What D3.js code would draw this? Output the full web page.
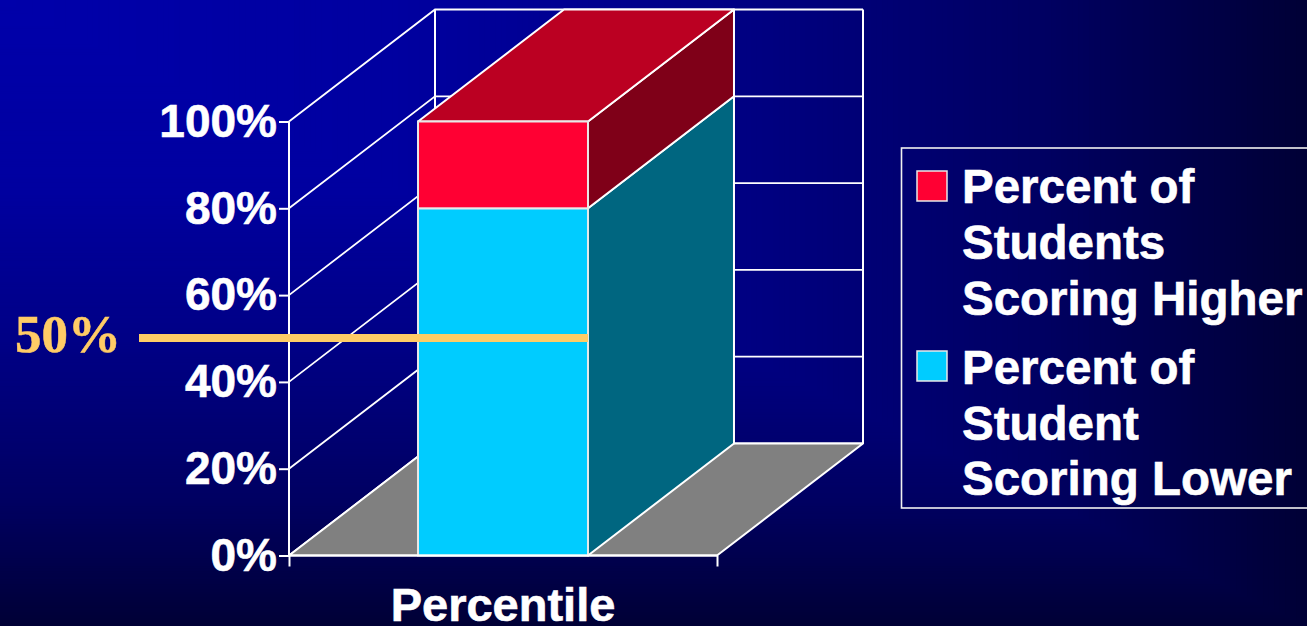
<!DOCTYPE html>
<html><head><meta charset="utf-8">
<script src="https://cdn.jsdelivr.net/npm/d3@7/dist/d3.min.js"></script>
<style>html,body{margin:0;padding:0;background:#000036;overflow:hidden}svg{display:block}</style>
</head><body><svg id="c" width="1307" height="626"></svg>
<script>
const categories = ["Percentile"];
const percentHigher = [20];
const percentLower = [80];
const seriesNames = [["Percent of","Students","Scoring Higher"],["Percent of","Student","Scoring Lower"]];
const yTicks = [0,20,40,60,80,100];
const markerValue = [50];
const markerLabel = "50%";

const svg = d3.select("#c");
// corner-anchored background gradient, painted as nested bands
const bgColor = d3.scaleLinear().domain([0,0.3,0.56,0.8,1]).range(["#0000aa","#0000a0","#000084","#000062","#000036"]);
svg.append("g").selectAll("rect").data(d3.range(240,0,-1)).join("rect")
  .attr("width",d=>1307*d/240).attr("height",d=>626*d/240).attr("fill",d=>bgColor(d/240));

const y = d3.scaleLinear().domain([0,100]).range([555.5,121.5]);
const x = d3.scaleBand().domain(categories).range([289,717]).paddingInner(0).paddingOuter(0.759);
const dx = 146, dy = -112;
const white = "#ffffff";
const drawLine = (pts,w=1.8,c=white)=>svg.append("path").attr("d",d3.line()(pts)).attr("fill","none").attr("stroke",c).attr("stroke-width",w);
const poly = (pts,f,s)=>svg.append("path").attr("d",d3.line()(pts)+"Z").attr("fill",f).attr("stroke",s||"none").attr("stroke-width",s?2:0).attr("stroke-linejoin","round");
const [x0,x1] = x.range();

// walls
yTicks.forEach(t=>{
  drawLine([[x0,y(t)],[x0+dx,y(t)+dy],[x1+dx,y(t)+dy]]);
});
drawLine([[x0+dx,y(0)+dy],[x0+dx,y(100)+dy]],2);
drawLine([[x1+dx,y(0)+dy],[x1+dx,y(100)+dy]],2);
// floor
poly([[x0,y(0)],[x0+dx,y(0)+dy],[x1+dx,y(0)+dy],[x1,y(0)]],"#808080",white);

// bar
const bx = x(categories[0]), bw = x.bandwidth();
const lo = percentLower[0], hi = lo + percentHigher[0];
poly([[bx+bw,y(0)],[bx+bw+dx,y(0)+dy],[bx+bw+dx,y(lo)+dy],[bx+bw,y(lo)]],"#006680",white);
poly([[bx+bw,y(lo)],[bx+bw+dx,y(lo)+dy],[bx+bw+dx,y(hi)+dy],[bx+bw,y(hi)]],"#7f0018",white);
poly([[bx,y(hi)],[bx+dx,y(hi)+dy],[bx+bw+dx,y(hi)+dy],[bx+bw,y(hi)]],"#bb0022",white);
svg.append("rect").attr("x",bx).attr("y",y(lo)).attr("width",bw).attr("height",y(0)-y(lo)).attr("fill","#00ccff").attr("stroke","#e8e8e8").attr("stroke-width",2);
svg.append("rect").attr("x",bx).attr("y",y(hi)).attr("width",bw).attr("height",y(lo)-y(hi)).attr("fill","#ff0033").attr("stroke","#e8e8e8").attr("stroke-width",2);

// axes
const font = "'Liberation Sans',Arial,sans-serif";
const ya = svg.append("g").attr("transform",`translate(${x0},0)`)
  .call(d3.axisLeft(y).tickValues(yTicks).tickFormat(d=>d+"%").tickSize(10).tickPadding(2));
const xlin = d3.scaleLinear().domain([0,1]).range([x0,x1]);
const xa = svg.append("g").attr("transform",`translate(0,${y(0)})`)
  .call(d3.axisBottom(xlin).tickValues([0,1]).tickFormat("").tickSize(11));
[ya,xa].forEach(a=>{a.selectAll("path").attr("stroke",white).attr("stroke-width",2);a.selectAll("line").attr("stroke",white).attr("stroke-width",2);});
ya.select("path.domain").attr("d",`M0,${y(100)}V${y(0)}`);
xa.select("path.domain").attr("d",`M${x0},0H${x1}`);
ya.selectAll("text").attr("fill",white).attr("stroke",white).attr("stroke-width",0.6).attr("font-family",font).attr("font-weight","bold").attr("font-size",46).attr("dy","0.32em");
svg.append("text").text(categories[0]).attr("x",(x0+x1)/2).attr("y",621).attr("text-anchor","middle")
  .attr("fill",white).attr("stroke",white).attr("stroke-width",0.6).attr("font-family",font).attr("font-weight","bold").attr("font-size",47);

// 50% marker
svg.append("line").attr("x1",139).attr("x2",bx+bw).attr("y1",338).attr("y2",338)
  .attr("stroke","#ffcc66").attr("stroke-width",8);
svg.append("text").text(markerLabel).attr("x",15).attr("y",352).attr("fill","#ffcc66").attr("stroke","#ffcc66").attr("stroke-width",0.5)
  .attr("font-family","'Liberation Serif',serif").attr("font-weight","bold").attr("font-size",53);

// legend
svg.append("rect").attr("x",901.5).attr("y",148).attr("width",420).attr("height",360).attr("fill","none").attr("stroke","#f0f0f0").attr("stroke-width",1.6);
const colors = ["#ff0033","#00ccff"], sy = [171,351], ty=[[203,259,315],[384,440,495]];
seriesNames.forEach((lines,i)=>{
  svg.append("rect").attr("x",917).attr("y",sy[i]).attr("width",30).attr("height",30).attr("fill",colors[i]).attr("stroke","#e8e8e8").attr("stroke-width",1.5);
  lines.forEach((t,j)=>svg.append("text").text(t).attr("x",962).attr("y",ty[i][j]).attr("fill",white).attr("stroke",white).attr("stroke-width",0.6)
    .attr("font-family",font).attr("font-weight","bold").attr("font-size",47.5));
});
</script></body></html>
